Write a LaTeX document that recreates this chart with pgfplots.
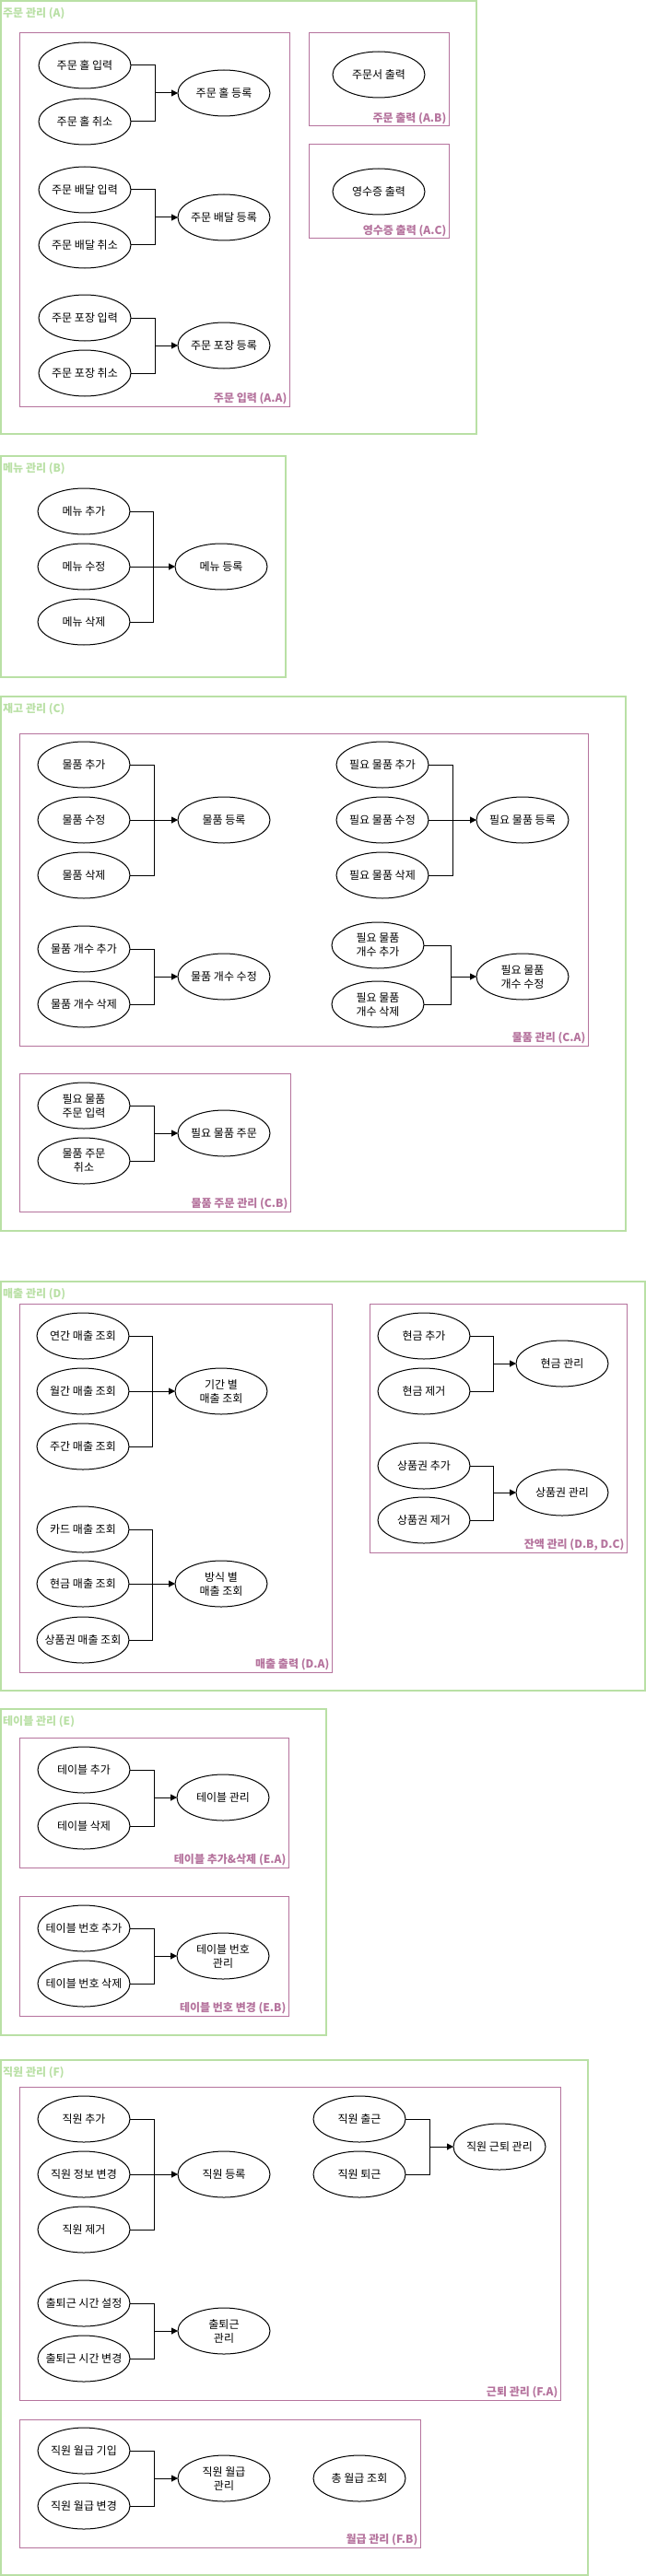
\documentclass[border=0pt]{standalone}
\usepackage{fontspec}
\setmainfont{Noto Sans CJK KR}
\usepackage{pgfplots}
\pgfplotsset{compat=1.18}
\usetikzlibrary{arrows.meta}
\definecolor{gr}{HTML}{B9E0A5}
\definecolor{pk}{HTML}{B5739D}
% source use case: x, y, bar x, target y, text
\newcommand\src[5]{\draw[line width=1pt] (axis cs:#1,#2) ellipse [x radius=50pt, y radius=25pt];
 \node[align=center,font=\fontsize{12}{15}\selectfont] at (axis cs:#1,#2) {#5};
 \draw[line width=1pt] (axis cs:#1+50,#2) -| (axis cs:#3,#4);}
% target use case: x, y, bar x, text
\newcommand\tgt[4]{\draw[line width=1pt] (axis cs:#1,#2) ellipse [x radius=50pt, y radius=25pt];
 \node[align=center,font=\fontsize{12}{15}\selectfont] at (axis cs:#1,#2) {#4};
 \draw[line width=1pt,-{Triangle[length=7pt,width=7pt]}] (axis cs:#3,#2) -- (axis cs:#1-50,#2);}
\newcommand\uc[3]{\draw[line width=1pt] (axis cs:#1,#2) ellipse [x radius=50pt, y radius=25pt];
 \node[align=center,font=\fontsize{12}{15}\selectfont] at (axis cs:#1,#2) {#3};}
% green box: x1,y1,x2,y2,title
\newcommand\gbox[5]{\draw[gr,line width=1.2pt] (axis cs:#1,#2) rectangle (axis cs:#3,#4);
 \node[anchor=west,text=gr,font=\fontsize{12}{14}\selectfont\bfseries,inner sep=1pt] at (axis cs:#1+1,#2+14) {#5};}
\newcommand\pbox[5]{\draw[pk,line width=1pt] (axis cs:#1,#2) rectangle (axis cs:#3,#4);
 \node[anchor=south east,text=pk,font=\fontsize{12}{14}\selectfont\bfseries,inner sep=1.5pt] at (axis cs:#3-1,#4) {#5};}
\begin{document}
\begin{tikzpicture}
\begin{axis}[width=701pt,height=2796pt,scale only axis,xmin=0,xmax=701,ymin=0,ymax=2796,
 y dir=reverse,hide axis,clip=false]
\path (axis cs:0,0) rectangle (axis cs:701,2796);
% A
\gbox{1}{1}{517}{471}{주문 관리 (A)}
\pbox{21}{36}{314}{441}{주문 입력 (A.A)}
\src{92}{71}{168}{101}{주문 홀 입력}
\src{92}{132}{168}{101}{주문 홀 취소}
\tgt{243}{101}{168}{주문 홀 등록}
\src{92}{206}{168}{236}{주문 배달 입력}
\src{92}{266}{168}{236}{주문 배달 취소}
\tgt{243}{236}{168}{주문 배달 등록}
\src{92}{345}{168}{375}{주문 포장 입력}
\src{92}{405}{168}{375}{주문 포장 취소}
\tgt{243}{375}{168}{주문 포장 등록}
\pbox{335}{36}{487}{137}{주문 출력 (A.B)}
\uc{411}{81}{주문서 출력}
\pbox{335}{157}{487}{259}{영수증 출력 (A.C)}
\uc{411}{208}{영수증 출력}
% B
\gbox{1}{495}{310}{735}{메뉴 관리 (B)}
\src{91}{555}{166}{615}{메뉴 추가}
\src{91}{615}{166}{615}{메뉴 수정}
\src{91}{675}{166}{615}{메뉴 삭제}
\tgt{240}{615}{166}{메뉴 등록}
% C
\gbox{1}{756}{679}{1336}{재고 관리 (C)}
\pbox{21}{796}{638}{1135}{물품 관리 (C.A)}
\src{91}{830}{167}{890}{물품 추가}
\src{91}{890}{167}{890}{물품 수정}
\src{91}{950}{167}{890}{물품 삭제}
\tgt{243}{890}{167}{물품 등록}
\src{415}{830}{491}{890}{필요 물품 추가}
\src{415}{890}{491}{890}{필요 물품 수정}
\src{415}{950}{491}{890}{필요 물품 삭제}
\tgt{567}{890}{491}{필요 물품 등록}
\src{91}{1030}{167}{1060}{물품 개수 추가}
\src{91}{1090}{167}{1060}{물품 개수 삭제}
\tgt{243}{1060}{167}{물품 개수 수정}
\src{410}{1026}{489}{1060}{필요 물품\\개수 추가}
\src{410}{1090}{489}{1060}{필요 물품\\개수 삭제}
\tgt{567}{1060}{489}{필요 물품\\개수 수정}
\pbox{21}{1165}{315}{1315}{물품 주문 관리 (C.B)}
\src{91}{1200}{167}{1230}{필요 물품\\주문 입력}
\src{91}{1260}{167}{1230}{물품 주문\\취소}
\tgt{243}{1230}{167}{필요 물품 주문}
% D
\gbox{1}{1391}{700}{1835}{매출 관리 (D)}
\pbox{21}{1415}{360}{1815}{매출 출력 (D.A)}
\src{90}{1450}{165}{1510}{연간 매출 조회}
\src{90}{1510}{165}{1510}{월간 매출 조회}
\src{90}{1570}{165}{1510}{주간 매출 조회}
\tgt{240}{1510}{165}{기간 별\\매출 조회}
\src{90}{1660}{165}{1719}{카드 매출 조회}
\src{90}{1719}{165}{1719}{현금 매출 조회}
\src{90}{1780}{165}{1719}{상품권 매출 조회}
\tgt{240}{1719}{165}{방식 별\\매출 조회}
\pbox{401}{1415}{680}{1685}{잔액 관리 (D.B, D.C)}
\src{460}{1450}{535}{1480}{현금 추가}
\src{460}{1510}{535}{1480}{현금 제거}
\tgt{610}{1480}{535}{현금 관리}
\src{460}{1591}{535}{1620}{상품권 추가}
\src{460}{1650}{535}{1620}{상품권 제거}
\tgt{610}{1620}{535}{상품권 관리}
% E
\gbox{1}{1855}{354}{2209}{테이블 관리 (E)}
\pbox{21}{1886}{313}{2027}{테이블 추가\&삭제 (E.A)}
\src{91}{1921}{167}{1951}{테이블 추가}
\src{91}{1982}{167}{1951}{테이블 삭제}
\tgt{242}{1951}{167}{테이블 관리}
\pbox{21}{2058}{313}{2188}{테이블 번호 변경 (E.B)}
\src{91}{2093}{167}{2123}{테이블 번호 추가}
\src{91}{2153}{167}{2123}{테이블 번호 삭제}
\tgt{242}{2123}{167}{테이블 번호\\관리}
% F
\gbox{1}{2236}{638}{2795}{직원 관리 (F)}
\pbox{21}{2265}{608}{2605}{근퇴 관리 (F.A)}
\src{91}{2300}{167}{2360}{직원 추가}
\src{91}{2360}{167}{2360}{직원 정보 변경}
\src{91}{2420}{167}{2360}{직원 제거}
\tgt{243}{2360}{167}{직원 등록}
\src{390}{2300}{466}{2330}{직원 출근}
\src{390}{2360}{466}{2330}{직원 퇴근}
\tgt{542}{2330}{466}{직원 근퇴 관리}
\src{91}{2500}{167}{2530}{출퇴근 시간 설정}
\src{91}{2560}{167}{2530}{출퇴근 시간 변경}
\tgt{243}{2530}{167}{출퇴근\\관리}
\pbox{21}{2626}{456}{2765}{월급 관리 (F.B)}
\src{91}{2660}{167}{2690}{직원 월급 기입}
\src{91}{2720}{167}{2690}{직원 월급 변경}
\tgt{243}{2690}{167}{직원 월급\\관리}
\uc{390}{2690}{총 월급 조회}
\end{axis}
\end{tikzpicture}
\end{document}
